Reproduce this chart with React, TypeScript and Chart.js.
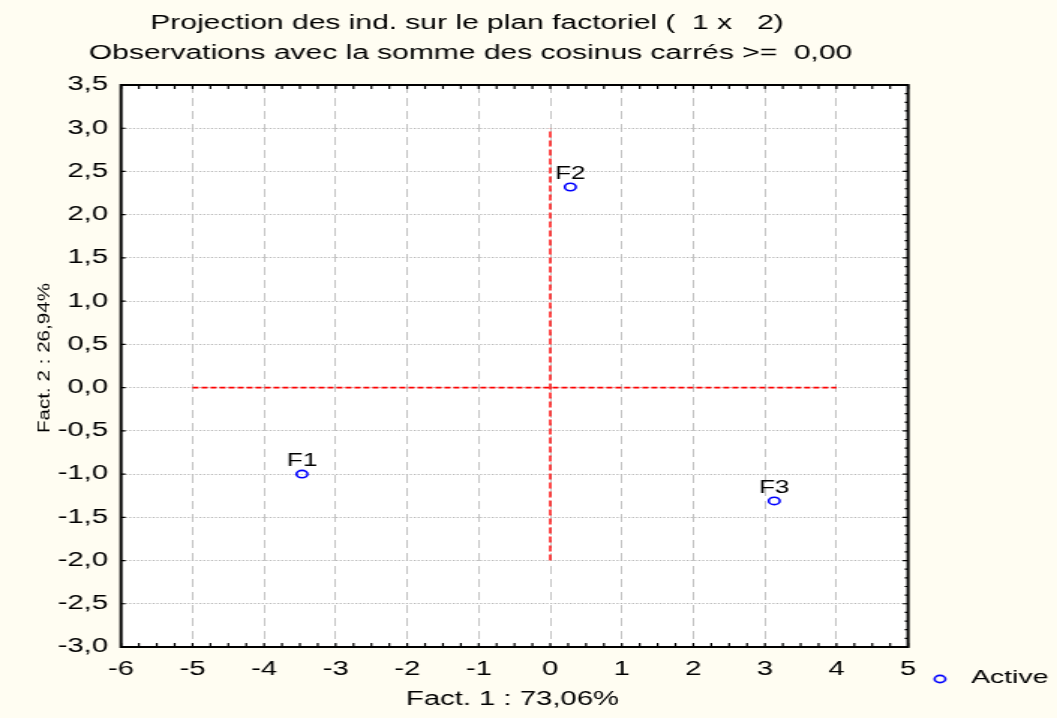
import React, { useEffect, useRef } from "react";
import { Chart, registerables } from "chart.js";

Chart.register(...registerables);

// ---- data ----
const pointLabels = ["F1", "F2", "F3"];
const fact1Values = [-3.47, 0.28, 3.13];
const fact2Values = [-1.0, 2.32, -1.31];
const seriesName = "Active";

const xRange = [-6, 5];
const yRange = [-3, 3.5];
const hRefX = [-5, 4];
const hRefY = [0, 0];
const vRefX = [0, 0];
const vRefY = [-2, 3];

const titleLines = [
  "Projection des ind. sur le plan factoriel (  1 x   2)",
  "Observations avec la somme des cosinus carrés >=  0,00",
];
const xTitle = "Fact. 1 : 73,06%";
const yTitle = "Fact. 2 : 26,94%";

// ---- layout (picture is drawn narrow and stretched horizontally) ----
const W = 1057;
const H = 718;
const IW = 705;
const S = W / IW;
const FONT = '"Liberation Sans", Arial, sans-serif';
const BG = "#fffdf2";

const decor = {
  id: "decor",
  beforeDraw(chart: any) {
    const { ctx, chartArea: a } = chart;
    ctx.save();
    ctx.fillStyle = BG;
    ctx.fillRect(0, 0, chart.width, chart.height);
    ctx.fillStyle = "#ffffff";
    ctx.fillRect(a.left, a.top, a.right - a.left, a.bottom - a.top);
    ctx.restore();
  },
  afterDraw(chart: any) {
    const { ctx, chartArea: a, scales } = chart;
    const xs = scales.x;
    const ys = scales.y;
    ctx.save();
    // frame
    ctx.strokeStyle = "#000";
    ctx.lineWidth = 2;
    ctx.strokeRect(a.left, a.top, a.right - a.left, a.bottom - a.top);
    // inner tick marks
    ctx.lineWidth = 1.2;
    ctx.beginPath();
    for (let i = 0; i <= (xs.max - xs.min) * 4; i++) {
      const p = xs.getPixelForValue(xs.min + i * 0.25);
      ctx.moveTo(p, a.bottom);
      ctx.lineTo(p, a.bottom - 4);
      ctx.moveTo(p, a.top);
      ctx.lineTo(p, a.top + 4);
    }
    for (let i = 0; i <= (ys.max - ys.min) * 2; i++) {
      const p = ys.getPixelForValue(ys.min + i * 0.5);
      ctx.moveTo(a.left, p);
      ctx.lineTo(a.left + 3, p);
    }
    for (let i = 0; i <= Math.round((ys.max - ys.min) * 10); i++) {
      const p = ys.getPixelForValue(ys.min + i * 0.1);
      const len = i % 5 === 0 ? 3.5 : 2.2;
      ctx.moveTo(a.right, p);
      ctx.lineTo(a.right - len, p);
    }
    ctx.stroke();

    // point labels
    const meta = chart.getDatasetMeta(0);
    ctx.fillStyle = "#000";
    ctx.font = `17.5px ${FONT}`;
    ctx.textAlign = "center";
    ctx.textBaseline = "alphabetic";
    meta.data.forEach((el: any, i: number) => {
      ctx.fillText(pointLabels[i], el.x, el.y - 8);
    });

    // titles
    ctx.font = `20px ${FONT}`;
    ctx.textBaseline = "middle";
    ctx.fillText(titleLines[0], 467 / S, 23);
    ctx.fillText(titleLines[1], 470.5 / S, 53);

    // x axis title
    ctx.font = `19.5px ${FONT}`;
    ctx.fillText(xTitle, 512.5 / S, 700);

    // y axis title (rotated, un-stretched)
    ctx.save();
    ctx.translate(44 / S, 358);
    ctx.scale(0.56, 1);
    ctx.rotate(-Math.PI / 2);
    ctx.font = `20.6px ${FONT}`;
    ctx.textAlign = "center";
    ctx.textBaseline = "middle";
    ctx.fillText(yTitle, 0, 0);
    ctx.restore();

    // legend
    const ds = chart.data.datasets[0];
    ctx.strokeStyle = ds.borderColor;
    ctx.lineWidth = 1.6;
    ctx.beginPath();
    ctx.arc(940 / S, 679, 3.6, 0, Math.PI * 2);
    ctx.stroke();
    ctx.fillStyle = "#000";
    ctx.font = `19px ${FONT}`;
    ctx.textAlign = "left";
    ctx.textBaseline = "middle";
    ctx.fillText(ds.label, 971 / S, 678);
    ctx.restore();
  },
};

export default function App() {
  const ref = useRef<HTMLCanvasElement | null>(null);

  useEffect(() => {
    if (!ref.current) return;
    const chart = new Chart(ref.current, {
      type: "scatter",
      data: {
        datasets: [
          {
            label: seriesName,
            data: fact1Values.map((x, i) => ({ x, y: fact2Values[i] })),
            borderColor: "#0000ff",
            backgroundColor: "rgba(0,0,0,0)",
            pointRadius: 3.7,
            pointBorderWidth: 1.6,
            showLine: false,
          },
          {
            label: "h",
            data: hRefX.map((x, i) => ({ x, y: hRefY[i] })),
            borderColor: "#ff0000",
            borderWidth: 1.6,
            borderDash: [4, 2],
            pointRadius: 0,
            showLine: true,
          },
          {
            label: "v",
            data: vRefX.map((x, i) => ({ x, y: vRefY[i] })),
            borderColor: "#ff0000",
            borderWidth: 1.4,
            borderDash: [6, 3],
            pointRadius: 0,
            showLine: true,
          },
        ],
      },
      options: {
        responsive: false,
        animation: false,
        events: [],
        layout: { padding: { left: 0, top: 85, right: IW - 908 / S, bottom: 0 } },
        plugins: { legend: { display: false }, title: { display: false }, tooltip: { enabled: false } },
        scales: {
          x: {
            type: "linear",
            min: xRange[0],
            max: xRange[1],
            afterFit: (s: any) => {
              s.height = H - 647;
            },
            grid: { color: "#c4c4c4", lineWidth: 1, drawTicks: false },
            border: { display: false, dash: [8, 5] },
            ticks: {
              stepSize: 1,
              autoSkip: false,
              maxRotation: 0,
              padding: 11.3,
              color: "#000",
              font: { family: FONT, size: 19.5 },
              callback: (v: any) => String(v),
            },
          },
          y: {
            type: "linear",
            min: yRange[0],
            max: yRange[1],
            afterFit: (s: any) => {
              s.width = 121 / S;
            },
            grid: { color: "#b8b8b8", lineWidth: 1, drawTicks: false },
            border: { display: false, dash: [1.3, 1.3] },
            ticks: {
              stepSize: 0.5,
              autoSkip: false,
              padding: 8.7,
              color: "#000",
              font: { family: FONT, size: 19.5 },
              callback: (v: any) => Number(v).toFixed(1).replace(".", ","),
            },
          },
        },
      },
      plugins: [decor],
    } as any);
    return () => chart.destroy();
  }, []);

  return (
    <div
      style={{
        position: "absolute",
        left: 0,
        top: 0,
        width: W,
        height: H,
        background: BG,
        overflow: "hidden",
      }}
    >
      <div style={{ width: IW, height: H, transform: `scaleX(${S})`, transformOrigin: "0 0" }}>
        <canvas ref={ref} width={IW} height={H} />
      </div>
    </div>
  );
}
